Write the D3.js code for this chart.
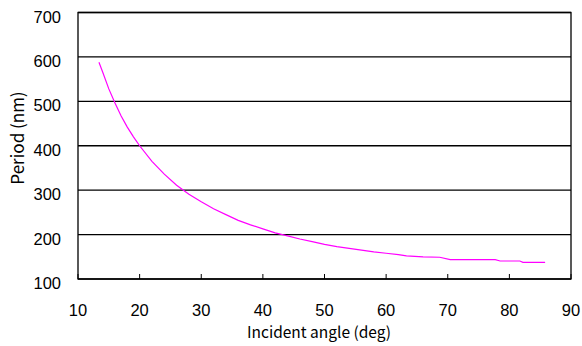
<!DOCTYPE html>
<html><head><meta charset="utf-8">
<script src="https://cdn.jsdelivr.net/npm/d3@7"></script>
<style>body{margin:0;background:#fff}svg{display:block}</style>
</head><body>
<svg id="c" width="582" height="346"></svg>
<script>
const angles = [13.4,14,15,16,17,18,19,20,22,24,26,28,30,32,34,36,38,40,42,44,46,48,50,52,54,56,58,60,62,63.3,66,68.7,70.4,74,77.7,78.5,81.7,82.2,84,85.8];
const periods = [588,566,528,496,467,442,420,400,365,336,311,291,274,258,245,232,222,213,204,197,190,184,178,173,169,165,161,158,155,152,150,149,143.5,143.5,143.5,140.5,140.5,137.6,137.6,137.6];
const xTicks = [10,20,30,40,50,60,70,80,90];
const yTicks = [100,200,300,400,500,600,700];
const xTitle = "Incident angle (deg)";
const yTitle = "Period (nm)";

const svg = d3.select("#c");
const L=78, R=571, T=12.5, B=279;
const x = d3.scaleLinear().domain([10,90]).range([L,R]);
const y = d3.scaleLinear().domain([100,700]).range([B,T]);

svg.append("g").selectAll("line").data(yTicks).join("line")
  .attr("x1",L).attr("x2",R).attr("y1",d=>y(d)).attr("y2",d=>y(d))
  .attr("stroke","#000").attr("stroke-width",1.3);
svg.append("rect").attr("x",L).attr("y",T).attr("width",R-L).attr("height",B-T)
  .attr("fill","none").attr("stroke","#000").attr("stroke-width",1.3);
svg.append("g").selectAll("line").data(xTicks).join("line")
  .attr("x1",d=>x(d)).attr("x2",d=>x(d)).attr("y1",B).attr("y2",B-5)
  .attr("stroke","#000").attr("stroke-width",1);

const num = "'Liberation Sans', Arial, sans-serif";
svg.append("g").selectAll("text").data(xTicks).join("text")
  .attr("x",d=>x(d)).attr("y",316).attr("text-anchor","middle")
  .attr("font-family",num).attr("font-size",16.5).attr("fill","#000").text(d=>d);
svg.append("g").selectAll("text").data(yTicks).join("text")
  .attr("x",61).attr("y",d=>y(d)+10).attr("text-anchor","end")
  .attr("font-family",num).attr("font-size",16.5).attr("fill","#000").text(d=>d);

const jp = "'Noto Sans CJK JP', sans-serif";
svg.append("text").attr("x",319).attr("y",338).attr("text-anchor","middle")
  .attr("font-family",jp).attr("font-size",15.5).attr("fill","#000").text(xTitle);
svg.append("text").attr("transform","translate(24,138) rotate(-90)").attr("text-anchor","middle")
  .attr("font-family",jp).attr("font-size",17).attr("fill","#000").text(yTitle);

const pts = angles.map((a,i)=>[a,periods[i]]);
svg.append("path").datum(pts)
  .attr("d",d3.line().x(d=>x(d[0])).y(d=>y(d[1])))
  .attr("fill","none").attr("stroke","#ff00ff").attr("stroke-width",1.2);
</script>
</body></html>
